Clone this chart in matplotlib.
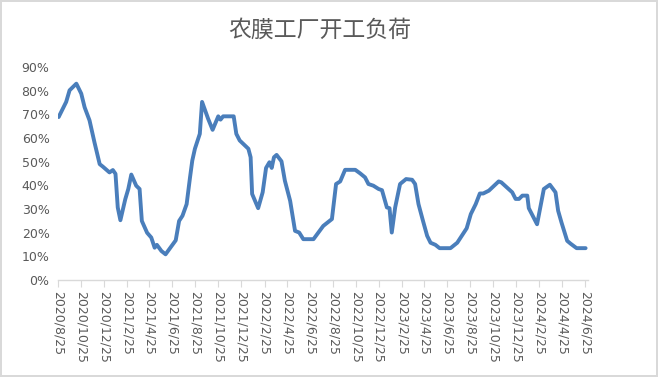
import matplotlib.pyplot as plt
import matplotlib.dates as mdates
import numpy as np
import pandas as pd
from matplotlib.ticker import FuncFormatter, MultipleLocator

plt.rcParams['font.family'] = ['Noto Sans CJK SC', 'DejaVu Sans']

# Operating rate of agricultural film plants (%)
dates = [
    '2020-08-27', '2020-09-16', '2020-09-25', '2020-10-13', '2020-10-26', '2020-11-04',
    '2020-11-17', '2020-11-30', '2020-12-14', '2020-12-22', '2021-01-09', '2021-01-18',
    '2021-01-25', '2021-01-31', '2021-02-07', '2021-02-20', '2021-02-28', '2021-03-08',
    '2021-03-21', '2021-03-30', '2021-04-05', '2021-04-19', '2021-04-30', '2021-05-09',
    '2021-05-15', '2021-05-27', '2021-06-07', '2021-06-23', '2021-07-04', '2021-07-13',
    '2021-07-22', '2021-08-02', '2021-08-11', '2021-08-17', '2021-08-24', '2021-09-06',
    '2021-09-12', '2021-09-28', '2021-10-10', '2021-10-25', '2021-10-31', '2021-11-07',
    '2021-12-05', '2021-12-12', '2021-12-21', '2022-01-13', '2022-01-19', '2022-01-23',
    '2022-02-08', '2022-02-20', '2022-03-01', '2022-03-10', '2022-03-16', '2022-03-22',
    '2022-03-29', '2022-04-11', '2022-04-20', '2022-05-04', '2022-05-17', '2022-05-28',
    '2022-06-08', '2022-07-05', '2022-07-18', '2022-07-31', '2022-08-23', '2022-09-03',
    '2022-09-14', '2022-09-27', '2022-10-24', '2022-11-06', '2022-11-19', '2022-11-28',
    '2022-12-11', '2022-12-25', '2023-01-03', '2023-01-16', '2023-01-23', '2023-01-29',
    '2023-02-07', '2023-02-20', '2023-03-08', '2023-03-24', '2023-04-01', '2023-04-10',
    '2023-04-22', '2023-05-03', '2023-05-12', '2023-05-25', '2023-06-05', '2023-07-04',
    '2023-07-22', '2023-08-07', '2023-08-16', '2023-08-27', '2023-09-09', '2023-09-20',
    '2023-09-29', '2023-10-14', '2023-11-09', '2023-11-16', '2023-12-15', '2023-12-24',
    '2024-01-02', '2024-01-11', '2024-01-24', '2024-01-28', '2024-02-19', '2024-03-08',
    '2024-03-24', '2024-04-08', '2024-04-15', '2024-04-24', '2024-05-09', '2024-05-18',
    '2024-06-03', '2024-06-27',
]
load_pct = [
    68.9, 75.3, 80.2, 83.0, 78.8, 73.0,
    67.5, 58.3, 49.0, 48.0, 45.5, 46.5,
    44.9, 30.7, 25.3, 34.2, 38.5, 44.6,
    39.9, 38.5, 25.0, 20.0, 18.0, 13.7,
    14.9, 12.3, 10.9, 14.4, 16.8, 25.0,
    27.2, 32.1, 43.4, 50.5, 55.5, 61.8,
    75.3, 68.2, 63.5, 69.2, 67.8, 69.2,
    69.2, 61.8, 59.0, 55.5, 51.9, 36.4,
    30.4, 37.1, 47.4, 49.8, 47.4, 51.9,
    52.9, 50.2, 42.0, 33.5, 20.8, 20.1,
    17.3, 17.3, 20.1, 22.9, 25.8, 40.6,
    41.7, 46.6, 46.6, 45.1, 43.4, 40.6,
    39.9, 38.5, 38.0, 30.7, 30.4, 20.1,
    30.7, 40.6, 42.7, 42.4, 40.6, 32.1,
    25.0, 18.7, 15.8, 14.9, 13.5, 13.5,
    15.8, 19.7, 21.9, 27.9, 32.1, 36.6,
    36.6, 37.8, 41.7, 41.3, 37.1, 34.3,
    34.3, 35.7, 35.7, 30.4, 23.6, 38.5,
    40.3, 37.1, 29.3, 24.3, 16.6, 15.4,
    13.5, 13.5,
]

# tick every two months on the 25th
tick_dates = pd.date_range('2020-08-01', '2024-06-01', freq='2MS') + pd.Timedelta(days=24)

x = pd.to_datetime(dates)
y = np.array(load_pct) / 100

fig = plt.figure(figsize=(6.58, 3.77), dpi=100)
fig.patch.set_edgecolor('#D9D9D9')
fig.patch.set_linewidth(1.5)
ax = fig.add_axes([0.088, 0.257, 0.806, 0.565])

ax.plot(x, y, color='#4A7EBB', linewidth=2.8, solid_joinstyle='round', solid_capstyle='round')

ax.set_xlim(pd.Timestamp('2020-08-25'), pd.Timestamp('2024-07-04'))
ax.set_ylim(0, 0.9)
ax.yaxis.set_major_locator(MultipleLocator(0.1))
ax.yaxis.set_major_formatter(FuncFormatter(lambda v, p: f'{v * 100:.0f}%'))

ax.set_xticks(tick_dates)
ax.set_xticklabels([f'{d.year}/{d.month}/{d.day}' for d in tick_dates],
                   rotation=-90, family='DejaVu Sans')

for s in ['top', 'right', 'left']:
    ax.spines[s].set_visible(False)
ax.spines['bottom'].set_color('#D9D9D9')
ax.spines['bottom'].set_linewidth(1)

ax.tick_params(axis='x', direction='out', length=5, color='#D9D9D9', labelsize=9,
               labelcolor='#595959', pad=3)
ax.tick_params(axis='y', length=0, labelsize=9, labelcolor='#595959', pad=6)
for t in ax.get_yticklabels():
    t.set_family('DejaVu Sans')

fig.text(0.486, 0.92, '农膜工厂开工负荷', ha='center', va='center',
         fontsize=16.5, color='#595959')

plt.savefig('out.png', dpi=100)
